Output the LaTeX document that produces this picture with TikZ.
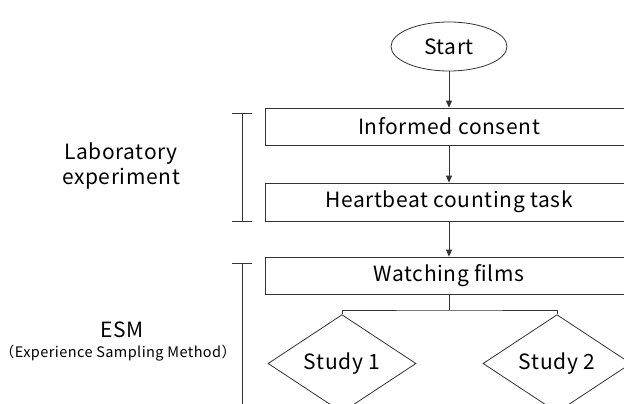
\documentclass[tikz,border=0pt]{standalone}
\usepackage{fontspec}
\setmainfont{Noto Sans CJK JP}[LetterSpace=3]
\usetikzlibrary{shapes.geometric,arrows.meta}
\begin{document}
\begin{tikzpicture}[x=1pt,y=-1pt,
  line/.style={draw=black!80,line width=0.8pt},
  arr/.style={line,-{Triangle[length=7pt,width=6pt]}},
  bigtext/.style={font=\fontsize{21}{22}\selectfont},
  stepbox/.style={line,rectangle,minimum width=368pt,inner sep=0pt,bigtext},
  studybox/.style={line,diamond,minimum width=148pt,minimum height=69pt,inner sep=0pt,bigtext},
  lbl/.style={align=center,font=\fontsize{21}{25}\selectfont}]
\useasboundingbox (0,0) rectangle (624,404);
\clip (0,0) rectangle (624,404);
\fill[white] (0,0) rectangle (624,404);
\node[line,ellipse,minimum width=116pt,minimum height=49pt,inner sep=0pt,bigtext] (start) at (449,46.5) {Start};
\node[stepbox,minimum height=37pt] (ic) at (449,126.5) {Informed consent};
\node[stepbox,minimum height=38pt] (hb) at (449,202) {Heartbeat counting task};
\node[stepbox,minimum height=37pt] (wf) at (449,275.5) {Watching films};
\node[studybox] (s1) at (342,363.5) {Study 1};
\node[studybox] (s2) at (557,363.5) {Study 2};
\coordinate (j) at (449,310);
\draw[arr] (start.south) -- (ic.north);
\draw[arr] (ic.south) -- (hb.north);
\draw[arr] (hb.south) -- (wf.north);
\draw[line] (wf.south) -- (j);
\draw[line] (s1.north) |- (j) -| (s2.north);
% brackets
\coordinate (b1t) at (242,113);
\coordinate (b1b) at (242,221);
\coordinate (b2t) at (242,263);
\coordinate (b2b) at (242,410);
\draw[line] (b1t) -- (b1b);
\draw[line] ([xshift=-10pt]b1t) -- ([xshift=10pt]b1t);
\draw[line] ([xshift=-10pt]b1b) -- ([xshift=10pt]b1b);
\draw[line] (b2t) -- (b2b);
\draw[line] ([xshift=-10pt]b2t) -- ([xshift=10pt]b2t);
\node[lbl] (lab) at (121,166) {Laboratory\\experiment};
\node[bigtext] (esm) at (122,330) {ESM};
\node[font=\fontsize{14.5}{15}\selectfont] (esmfull) at (118,353) {（Experience Sampling Method）};
\end{tikzpicture}
\end{document}
